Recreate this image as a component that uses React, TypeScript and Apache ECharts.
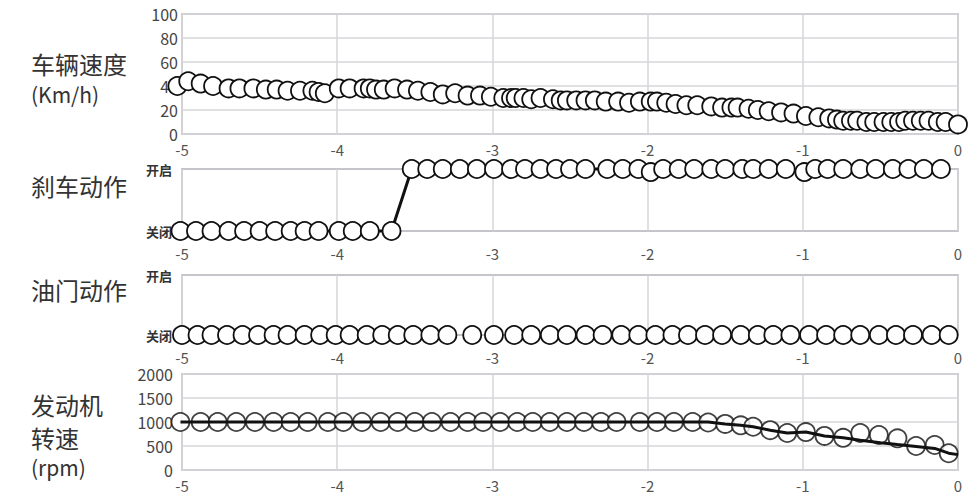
import React, { useEffect, useRef } from "react";
import * as echarts from "echarts";

const FONT = "'Noto Sans CJK SC', 'Noto Sans', sans-serif";

// 车辆速度 (Km/h)
const speedTime = [
  -5.03, -4.96, -4.88, -4.8, -4.7, -4.63, -4.54, -4.46, -4.39, -4.32, -4.24, -4.16, -4.12, -4.08,
  -3.99, -3.92, -3.83, -3.79, -3.75, -3.7, -3.63, -3.55, -3.48, -3.4, -3.32, -3.24, -3.16, -3.08,
  -3.01, -2.93, -2.88, -2.85, -2.8, -2.75, -2.69, -2.61, -2.56, -2.52, -2.46, -2.4, -2.34, -2.27,
  -2.19, -2.12, -2.05, -1.98, -1.94, -1.88, -1.82, -1.75, -1.68, -1.59, -1.52, -1.46, -1.42, -1.35,
  -1.29, -1.22, -1.14, -1.06, -0.98, -0.9, -0.83, -0.78, -0.74, -0.69, -0.65, -0.59, -0.54, -0.48,
  -0.43, -0.38, -0.34, -0.29, -0.24, -0.19, -0.13, -0.08, 0,
];
const speedValues = [
  40, 44, 42, 40, 38, 38, 38, 37, 37, 36, 36, 36, 35, 34,
  38, 38, 38, 38, 37, 37, 38, 37, 36, 35, 33, 34, 32, 32,
  31, 30, 30, 30, 30, 29, 30, 29, 28, 28, 28, 28, 28, 27,
  27, 26, 27, 27, 27, 26, 25, 24, 24, 23, 22, 22, 22, 21,
  20, 19, 18, 17, 15, 14, 13, 12, 11, 11, 11, 10, 10, 10,
  10, 10, 11, 11, 11, 11, 10, 10, 8,
];

// 刹车动作 (0 = 关闭, 1 = 开启)
const brakeTime = [
  -5.01, -4.91, -4.81, -4.7, -4.6, -4.5, -4.4, -4.3, -4.21, -4.12, -3.99, -3.9, -3.79, -3.65,
  -3.52, -3.42, -3.32, -3.21, -3.1, -2.99, -2.88, -2.79, -2.69, -2.59, -2.5, -2.4, -2.26, -2.16,
  -2.06, -1.98, -1.9, -1.8, -1.7, -1.59, -1.5, -1.39, -1.32, -1.22, -1.11, -0.99, -0.92, -0.84,
  -0.74, -0.63, -0.53, -0.42, -0.32, -0.22, -0.11,
];
const brakeValues = [
  0, 0, 0, 0, 0, 0, 0, 0, 0, 0, 0, 0, 0, 0,
  1, 1, 1, 1, 1, 1, 1, 1, 1, 1, 1, 1, 1, 1,
  1, 0.95, 1, 1, 1, 1, 1, 1, 1, 1, 1, 0.95, 1, 1,
  1, 1, 1, 1, 1, 1, 1,
];

// 油门动作
const throttleTime = [
  -5.0, -4.9, -4.81, -4.71, -4.61, -4.51, -4.41, -4.32, -4.21, -4.11, -4.01, -3.92, -3.81, -3.71,
  -3.61, -3.51, -3.4, -3.29, -3.13, -2.99, -2.86, -2.75, -2.63, -2.52, -2.4, -2.29, -2.17, -2.06,
  -1.95, -1.84, -1.74, -1.63, -1.52, -1.4, -1.29, -1.19, -1.08, -0.96, -0.85, -0.74, -0.63, -0.51,
  -0.4, -0.29, -0.17, -0.06,
];
const throttleValues = throttleTime.map(() => 0);

// 发动机转速 (rpm): sampled circles and the trace drawn beneath them
const rpmTime = [
  -5.01, -4.88, -4.77, -4.65, -4.53, -4.41, -4.3, -4.19, -4.06, -3.96, -3.84, -3.72, -3.61, -3.5,
  -3.39, -3.27, -3.16, -3.06, -2.95, -2.84, -2.74, -2.63, -2.52, -2.41, -2.3, -2.2, -2.05, -1.94,
  -1.83, -1.71, -1.61, -1.5, -1.4, -1.32, -1.21, -1.1, -0.98, -0.86, -0.74, -0.63, -0.51, -0.39,
  -0.27, -0.15, -0.06,
];
const rpmValues = [
  1000, 1000, 1000, 1000, 1000, 1000, 1000, 1000, 1000, 1000, 1000, 1000, 1000, 1000,
  1000, 1000, 1000, 1000, 1000, 1000, 1000, 1000, 1000, 1000, 1000, 1000, 1000, 1000,
  1000, 1000, 990, 960, 930, 900, 830, 770, 790, 710, 670, 770, 730, 660,
  500, 520, 350,
];
const rpmLineTime = [-5.01, -1.61, -1.5, -1.4, -1.32, -1.21, -1.1, -0.98, -0.86, -0.74, -0.63, -0.5, -0.39, -0.27, -0.15, -0.06, 0];
const rpmLineValues = [1000, 1000, 960, 930, 900, 830, 770, 790, 710, 670, 620, 570, 530, 490, 450, 350, 320];

const xTicks = [-5, -4, -3, -2, -1, 0];
const speedTicks = [0, 20, 40, 60, 80, 100];
const rpmTicks = [0, 500, 1000, 1500, 2000];
const stateLabels = ["关闭", "开启"];

const pair = (xs: number[], ys: number[]) => xs.map((x, i) => [x, ys[i]]);

const App: React.FC = () => {
  const chartRef = useRef<HTMLDivElement>(null);

  useEffect(() => {
    document.body.style.margin = "0";
    const chart = echarts.init(chartRef.current!, null, { renderer: "svg" });

    const grids = [
      { top: 14, height: 120 },
      { top: 169, height: 62 },
      { top: 275, height: 60 },
      { top: 374, height: 96 },
    ].map((g) => ({
      ...g,
      left: 182,
      right: 20,
      show: true,
      borderColor: "#c4c4ca",
      borderWidth: 2,
    }));

    const xAxes = [8, 15, 15, 8].map((margin, i) => ({
      type: "value" as const,
      gridIndex: i,
      min: xTicks[0],
      max: xTicks[xTicks.length - 1],
      interval: 1,
      axisLine: { show: false },
      axisTick: { show: false },
      axisLabel: { color: "#555", fontSize: 15, fontFamily: FONT, margin },
      splitLine: { show: true, lineStyle: { color: "#d6d6da", width: 1.5 } },
    }));

    const stateAxis = (i: number) => ({
      type: "value" as const,
      gridIndex: i,
      min: 0,
      max: 1,
      interval: 1,
      axisLine: { show: false },
      axisTick: { show: false },
      splitLine: { show: false },
      axisLabel: {
        color: "#333",
        fontSize: 13,
        fontWeight: "bold" as const,
        fontFamily: FONT,
        margin: 10,
        formatter: (v: number) => stateLabels[v],
      },
    });

    const numberAxis = (i: number, ticks: number[], margin: number) => ({
      type: "value" as const,
      gridIndex: i,
      min: ticks[0],
      max: ticks[ticks.length - 1],
      interval: ticks[1] - ticks[0],
      axisLine: { show: false },
      axisTick: { show: false },
      axisLabel: {
        color: "#444",
        fontSize: 16,
        fontFamily: FONT,
        margin,
        formatter: (v: number) => String(v),
      },
      splitLine: { show: true, lineStyle: { color: "#d6d6da", width: 1.5 } },
    });

    const yAxes = [
      numberAxis(0, speedTicks, 4),
      stateAxis(1),
      stateAxis(2),
      numberAxis(3, rpmTicks, 9),
    ];

    const marker = {
      symbol: "circle",
      symbolSize: 18,
      itemStyle: { color: "#fff", borderColor: "#111", borderWidth: 1.8 },
    };

    const dotLine = (i: number, data: number[][], lineWidth: number) => ({
      type: "line" as const,
      xAxisIndex: i,
      yAxisIndex: i,
      data,
      clip: false,
      showAllSymbol: true,
      ...marker,
      lineStyle: { color: "#111", width: lineWidth, opacity: lineWidth ? 1 : 0 },
    });

    const titles = [
      { text: "车辆速度", y: 63, size: 24 },
      { text: "(Km/h)", y: 94, size: 21 },
      { text: "刹车动作", y: 185, size: 24 },
      { text: "油门动作", y: 289, size: 24 },
      { text: "发动机", y: 404, size: 24 },
      { text: "转速", y: 437, size: 24 },
      { text: "(rpm)", y: 467, size: 21 },
    ];

    chart.setOption({
      animation: false,
      grid: grids,
      xAxis: xAxes,
      yAxis: yAxes,
      graphic: titles.map((t) => ({
        type: "text",
        left: 31,
        top: t.y - t.size / 2,
        style: {
          text: t.text,
          fill: "#333",
          fontSize: t.size,
          lineHeight: t.size,
          fontFamily: FONT,
        },
      })),
      series: [
        dotLine(0, pair(speedTime, speedValues), 3),
        dotLine(1, pair(brakeTime, brakeValues), 3),
        dotLine(2, pair(throttleTime, throttleValues), 0),
        {
          type: "line",
          xAxisIndex: 3,
          yAxisIndex: 3,
          data: pair(rpmLineTime, rpmLineValues),
          clip: false,
          showSymbol: false,
          lineStyle: { color: "#111", width: 3 },
        },
        {
          type: "scatter",
          xAxisIndex: 3,
          yAxisIndex: 3,
          data: pair(rpmTime, rpmValues),
          clip: false,
          ...marker,
        },
      ],
    });

    return () => {
      chart.dispose();
    };
  }, []);

  return <div ref={chartRef} style={{ width: "978px", height: "500px" }} />;
};

export default App;
